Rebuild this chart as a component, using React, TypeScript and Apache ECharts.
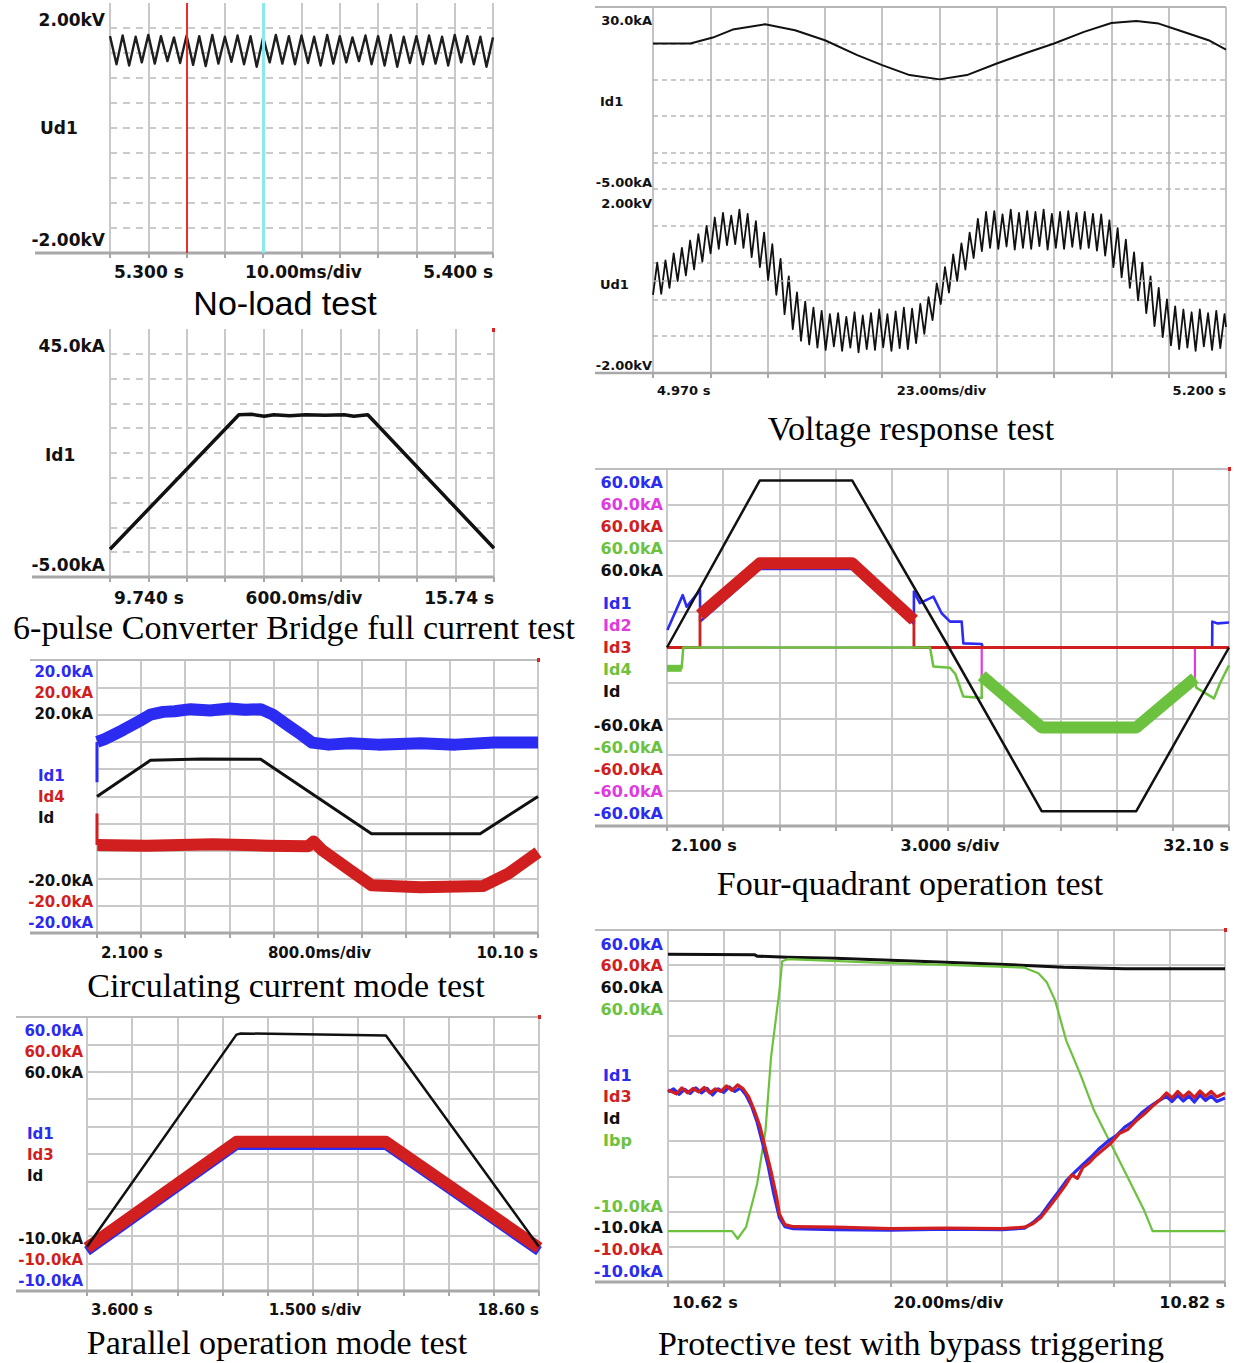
import React, { useEffect, useRef } from "react";
import * as echarts from "echarts";

type Pt = [number, number];

// ---------------- colours of the scope channels ----------------
const BLUE = "#2b2bf2";
const RED = "#d11f1f";
const BLACK = "#111111";
const GREEN = "#6cc23e";
const MAGENTA = "#e03ae0";

// ---------------- Panel 1: No-load test ----------------
const noLoadTitle = "No-load test";
const noLoadXLabels = ["5.300 s", "10.00ms/div", "5.400 s"];
const noLoadYLabels = ["2.00kV", "Ud1", "-2.00kV"];
const noLoadCursorTimes = [5.3188, 5.3389];
const noLoadUd1: Pt[] = [
  [5.3, 1.47], [5.3017, 1.02], [5.3033, 1.48], [5.305, 1.0], [5.3067, 1.46], [5.3083, 1.05], [5.31, 1.49], [5.3117, 1.03],
  [5.3133, 1.47], [5.315, 1.07], [5.3167, 1.45], [5.3183, 1.04], [5.32, 1.48], [5.3217, 1.01], [5.3233, 1.47], [5.325, 0.99],
  [5.3267, 1.49], [5.3283, 1.03], [5.33, 1.46], [5.3317, 1.06], [5.3333, 1.48], [5.335, 1.02], [5.3367, 1.47], [5.3383, 0.98],
  [5.34, 1.45], [5.3417, 1.05], [5.3433, 1.49], [5.345, 1.03], [5.3467, 1.47], [5.3483, 1.02], [5.35, 1.48], [5.3517, 1.04],
  [5.3533, 1.46], [5.355, 1.0], [5.3567, 1.49], [5.3583, 1.03], [5.36, 1.47], [5.3617, 1.05], [5.3633, 1.45], [5.365, 1.07],
  [5.3667, 1.48], [5.3683, 1.02], [5.37, 1.47], [5.3717, 1.0], [5.3733, 1.49], [5.375, 0.98], [5.3767, 1.46], [5.3783, 1.04],
  [5.38, 1.47], [5.3817, 1.02], [5.3833, 1.48], [5.385, 1.03], [5.3867, 1.46], [5.3883, 1.0], [5.39, 1.49], [5.3917, 1.05],
  [5.3933, 1.47], [5.395, 1.02], [5.3967, 1.46], [5.3983, 0.98], [5.4, 1.45],
];

// ---------------- Panel 2: 6-pulse converter bridge full current ----------------
const fullTitle = "6-pulse Converter Bridge full current test";
const fullXLabels = ["9.740 s", "600.0ms/div", "15.74 s"];
const fullYLabels = ["45.0kA", "Id1", "-5.00kA"];
const fullId1: Pt[] = [
  [9.74, 0.6], [11.754, 27.7], [11.95, 27.8], [12.15, 27.4], [12.3, 27.7], [12.55, 27.5], [12.8, 27.7],
  [13.1, 27.6], [13.4, 27.7], [13.55, 27.4], [13.768, 27.7], [15.74, 0.8],
];

// ---------------- Panel 3: circulating current mode ----------------
const circTitle = "Circulating current mode test";
const circXLabels = ["2.100 s", "800.0ms/div", "10.10 s"];
const circTopLabels = ["20.0kA", "20.0kA", "20.0kA"];
const circNames = ["Id1", "Id4", "Id"];
const circBottomLabels = ["-20.0kA", "-20.0kA", "-20.0kA"];
const circId1: Pt[] = [
  [2.105, 8.0], [2.24, 8.4], [2.56, 9.7], [2.88, 11.1], [3.07, 12.0], [3.3, 12.4], [3.51, 12.5], [3.8, 12.8],
  [4.15, 12.6], [4.5, 12.9], [4.79, 12.7], [5.07, 12.8], [5.29, 12.0], [5.55, 10.5], [5.8, 9.1], [6.0, 7.9],
  [6.3, 7.6], [6.69, 7.8], [7.2, 7.6], [7.97, 7.8], [8.6, 7.6], [9.3, 7.9], [10.1, 7.9],
];
const circId1Spike: Pt[] = [[2.1, 8.0], [2.1, 2.1]];
const circId: Pt[] = [[2.1, 0], [3.07, 5.3], [4.0, 5.5], [5.07, 5.45], [7.08, -5.45], [9.05, -5.45], [10.1, 0]];
const circId4: Pt[] = [
  [2.105, -7.1], [3.0, -7.2], [4.2, -7.0], [5.2, -7.2], [5.93, -7.3], [6.03, -6.6], [6.19, -7.9], [6.69, -10.8],
  [7.08, -13.0], [7.97, -13.3], [9.11, -13.1], [9.56, -11.3], [10.1, -8.2],
];
const circId4Spike: Pt[] = [[2.1, -7.1], [2.1, -2.5]];

// ---------------- Panel 4: parallel operation mode ----------------
const paraTitle = "Parallel operation mode test";
const paraXLabels = ["3.600 s", "1.500 s/div", "18.60 s"];
const paraTopLabels = ["60.0kA", "60.0kA", "60.0kA"];
const paraNames = ["Id1", "Id3", "Id"];
const paraBottomLabels = ["-10.0kA", "-10.0kA", "-10.0kA"];
const paraId: Pt[] = [[3.6, 1.3], [8.56, 55.5], [8.7, 55.8], [13.52, 55.3], [18.6, 1.3]];
const paraId1: Pt[] = [[3.6, 0.2], [8.56, 27.3], [13.52, 27.3], [18.6, 0.2]];
const paraId3: Pt[] = [[3.6, 1.0], [8.56, 28.1], [13.52, 28.1], [18.6, 1.0]];

// ---------------- Panel 5: voltage response ----------------
const voltTitle = "Voltage response test";
const voltXLabels = ["4.970 s", "23.00ms/div", "5.200 s"];
const voltUpperLabels = ["30.0kA", "Id1", "-5.00kA"];
const voltLowerLabels = ["2.00kV", "Ud1", "-2.00kV"];
const voltId1: Pt[] = [
  [4.97, 22.97], [4.985, 22.97], [4.994, 24.12], [5.002, 25.66], [5.015, 26.68], [5.027, 25.53], [5.039, 23.61],
  [5.052, 20.74], [5.062, 18.82], [5.073, 16.91], [5.085, 16.08], [5.096, 16.91], [5.108, 19.14], [5.12, 21.19],
  [5.131, 22.97], [5.143, 25.21], [5.154, 26.93], [5.164, 27.32], [5.173, 26.81], [5.181, 25.53], [5.193, 23.61],
  [5.2, 21.82],
];
const voltUd1: Pt[] = [
  [4.97, -0.3], [4.9717, 0.4], [4.9733, -0.28], [4.975, 0.45], [4.9766, -0.15], [4.9783, 0.6], [4.9799, 0.0], [4.9816, 0.72],
  [4.9832, 0.12], [4.9849, 0.88], [4.9865, 0.25], [4.9882, 1.02], [4.9898, 0.42], [4.9915, 1.2], [4.9931, 0.6], [4.9948, 1.38],
  [4.9964, 0.7], [4.9981, 1.48], [4.9997, 0.78], [5.0014, 1.42], [5.003, 0.8], [5.0047, 1.55], [5.0063, 0.72], [5.008, 1.46],
  [5.0096, 0.52], [5.0113, 1.3], [5.0129, 0.3], [5.0146, 1.05], [5.0162, 0.02], [5.0179, 0.8], [5.0195, -0.3], [5.0212, 0.48],
  [5.0228, -0.72], [5.0245, 0.1], [5.0261, -1.05], [5.0278, -0.25], [5.0294, -1.3], [5.0311, -0.45], [5.0327, -1.38], [5.0344, -0.58],
  [5.036, -1.45], [5.0377, -0.65], [5.0393, -1.5], [5.041, -0.72], [5.0426, -1.42], [5.0443, -0.7], [5.0459, -1.52], [5.0476, -0.78],
  [5.0492, -1.45], [5.0509, -0.68], [5.0525, -1.55], [5.0542, -0.75], [5.0558, -1.48], [5.0575, -0.7], [5.0591, -1.5], [5.0608, -0.62],
  [5.0624, -1.44], [5.0641, -0.72], [5.0657, -1.52], [5.0674, -0.66], [5.069, -1.46], [5.0707, -0.58], [5.0723, -1.48], [5.074, -0.6],
  [5.0756, -1.35], [5.0773, -0.5], [5.0789, -1.15], [5.0806, -0.35], [5.0822, -0.85], [5.0839, -0.05], [5.0855, -0.5], [5.0872, 0.3],
  [5.0888, -0.25], [5.0905, 0.58], [5.0921, 0.0], [5.0938, 0.82], [5.0954, 0.25], [5.0971, 1.05], [5.0987, 0.5], [5.1004, 1.35],
  [5.102, 0.65], [5.1037, 1.5], [5.1053, 0.72], [5.107, 1.52], [5.1086, 0.7], [5.1103, 1.45], [5.1119, 0.75], [5.1136, 1.55],
  [5.1152, 0.68], [5.1169, 1.48], [5.1185, 0.72], [5.1202, 1.52], [5.1218, 0.7], [5.1235, 1.5], [5.1251, 0.76], [5.1268, 1.55],
  [5.1284, 0.68], [5.1301, 1.46], [5.1317, 0.72], [5.1334, 1.5], [5.135, 0.7], [5.1367, 1.52], [5.1383, 0.74], [5.14, 1.48],
  [5.1416, 0.7], [5.1433, 1.5], [5.1449, 0.72], [5.1466, 1.46], [5.1482, 0.66], [5.1499, 1.45], [5.1515, 0.55], [5.1532, 1.32],
  [5.1548, 0.3], [5.1565, 1.15], [5.1581, 0.08], [5.1598, 0.9], [5.1614, -0.15], [5.1631, 0.62], [5.1647, -0.42], [5.1664, 0.4],
  [5.168, -0.7], [5.1697, 0.1], [5.1713, -0.98], [5.173, -0.15], [5.1746, -1.22], [5.1763, -0.4], [5.1779, -1.4], [5.1796, -0.55],
  [5.1812, -1.48], [5.1829, -0.62], [5.1845, -1.45], [5.1862, -0.68], [5.1878, -1.52], [5.1895, -0.62], [5.1911, -1.42], [5.1928, -0.7],
  [5.1944, -1.5], [5.1961, -0.65], [5.1977, -1.46], [5.1994, -0.72], [5.2, -1.0],
];

// ---------------- Panel 6: four-quadrant operation ----------------
const fourTitle = "Four-quadrant operation test";
const fourXLabels = ["2.100 s", "3.000 s/div", "32.10 s"];
const fourTopLabels = ["60.0kA", "60.0kA", "60.0kA", "60.0kA", "60.0kA"];
const fourNames = ["Id1", "Id2", "Id3", "Id4", "Id"];
const fourBottomLabels = ["-60.0kA", "-60.0kA", "-60.0kA", "-60.0kA", "-60.0kA"];
const fourId: Pt[] = [[2.1, 0], [7.05, 56.1], [11.99, 56.1], [17.15, 0], [22.1, -55], [27.15, -55], [32.1, 0]];
const fourId1: Pt[] = [
  [2.12, 5.9], [2.94, 17.6], [3.15, 13.7], [3.86, 19.3], [3.87, 8.7], [7.05, 26.4], [11.99, 26.4], [15.28, 8.0],
  [15.28, 18.8], [15.6, 14.9], [16.32, 17.1], [16.76, 11.5], [17.21, 8.7], [17.83, 8.7], [17.92, 1.4], [18.9, 1.2],
  [18.95, 0], [31.2, 0], [31.21, 8.7], [31.5, 8.1], [32.1, 8.4],
];
const fourId2: Pt[] = [
  [2.1, 0], [18.9, 0], [18.9, -9.8], [22.1, -27.3], [27.15, -27.3], [30.28, -10.6], [30.28, 0], [32.1, 0],
];
const fourId3: Pt[] = [
  [2.1, 0], [3.86, 0], [3.86, 10.9], [7.06, 28.3], [11.99, 28.3], [15.28, 9.2], [15.28, 0], [32.1, 0],
];
const fourId4: Pt[] = [
  [2.1, -7.0], [2.88, -7.0], [2.97, 0], [16.14, 0], [16.32, -6.4], [17.21, -6.8], [17.5, -9.0], [17.92, -16.5],
  [18.9, -17.0], [18.9, -9.5], [22.1, -26.9], [27.15, -26.9], [30.28, -10.3], [30.35, -13.5], [31.3, -17.1],
  [31.62, -12.0], [32.1, -6.0],
];

// ---------------- Panel 7: protective test with bypass triggering ----------------
const protTitle = "Protective test with bypass triggering";
const protXLabels = ["10.62 s", "20.00ms/div", "10.82 s"];
const protTopLabels = ["60.0kA", "60.0kA", "60.0kA", "60.0kA"];
const protNames = ["Id1", "Id3", "Id", "Ibp"];
const protBottomLabels = ["-10.0kA", "-10.0kA", "-10.0kA", "-10.0kA"];
const protId: Pt[] = [
  [10.62, 55.2], [10.651, 55.1], [10.652, 54.8], [10.663, 54.6], [10.68, 54.4], [10.71, 53.8], [10.739, 53.2],
  [10.762, 52.6], [10.784, 52.3], [10.82, 52.3],
];
const protIbp: Pt[] = [
  [10.62, 0.1], [10.643, 0.1], [10.645, -1.4], [10.648, 0.9], [10.652, 9.5], [10.655, 20.1], [10.657, 34.7],
  [10.66, 47.9], [10.661, 53.8], [10.663, 54.2], [10.695, 53.5], [10.739, 52.7], [10.748, 52.5], [10.753, 51.4],
  [10.756, 49.6], [10.759, 46.0], [10.763, 38.0], [10.768, 31.4], [10.773, 24.1], [10.779, 17.5], [10.785, 10.9],
  [10.791, 4.2], [10.794, 0.1], [10.82, 0.1],
];
const protId3: Pt[] = [
  [10.62, 28.2], [10.623, 27.4], [10.625, 28.6], [10.627, 27.6], [10.629, 28.5], [10.631, 27.8], [10.633, 28.7],
  [10.635, 27.6], [10.637, 28.4], [10.639, 27.9], [10.641, 29.0], [10.643, 28.1], [10.645, 29.2], [10.647, 28.4],
  [10.649, 26.8], [10.651, 24.1], [10.653, 21.0], [10.655, 16.5], [10.657, 12.0], [10.659, 6.9], [10.66, 3.5],
  [10.662, 1.4], [10.665, 1.0], [10.68, 0.9], [10.7, 0.6], [10.72, 0.7], [10.74, 0.6], [10.748, 0.9], [10.751, 1.6],
  [10.754, 2.9], [10.757, 5.0], [10.76, 7.2], [10.763, 9.5], [10.765, 11.3], [10.767, 10.6], [10.769, 12.8],
  [10.771, 13.6], [10.773, 14.8], [10.776, 16.2], [10.779, 17.6], [10.782, 19.5], [10.785, 20.3], [10.788, 22.0],
  [10.791, 23.4], [10.794, 25.0], [10.797, 26.4], [10.799, 27.6], [10.801, 26.6], [10.803, 27.9], [10.805, 26.8],
  [10.807, 27.8], [10.809, 26.7], [10.811, 28.0], [10.813, 26.9], [10.815, 27.9], [10.817, 26.8], [10.82, 27.6],
];
const protId1: Pt[] = [
  [10.62, 27.8], [10.622, 28.4], [10.624, 27.3], [10.626, 28.3], [10.628, 27.5], [10.63, 28.6], [10.632, 27.6],
  [10.634, 28.5], [10.636, 27.2], [10.638, 28.4], [10.64, 27.7], [10.642, 28.8], [10.644, 27.9], [10.646, 28.6],
  [10.648, 27.2], [10.65, 25.0], [10.652, 21.8], [10.654, 17.5], [10.656, 13.0], [10.658, 7.5], [10.66, 2.8],
  [10.662, 1.0], [10.665, 0.6], [10.68, 0.4], [10.7, 0.3], [10.72, 0.5], [10.74, 0.4], [10.748, 0.7], [10.751, 1.8],
  [10.754, 3.3], [10.757, 5.6], [10.76, 7.8], [10.763, 10.1], [10.766, 11.8], [10.769, 13.4], [10.772, 14.9],
  [10.775, 16.6], [10.778, 18.0], [10.781, 19.1], [10.784, 20.8], [10.787, 21.9], [10.79, 23.6], [10.793, 24.9],
  [10.796, 26.0], [10.799, 26.9], [10.801, 25.9], [10.803, 27.1], [10.805, 26.0], [10.807, 27.0], [10.809, 25.8],
  [10.811, 27.2], [10.813, 26.1], [10.815, 27.0], [10.817, 25.9], [10.82, 26.6],
];

// ---------------- layout (positions / styles only) ----------------
interface Box { left: number; top: number; width: number; height: number }
interface PanelSpec {
  box: Box;
  x: [number, number, number];
  y: [number, number, number];
  hDashed: boolean;
  ticks: boolean;
  vColor: string;
  vWidth: number;
  hColor: string;
  hWidth: number;
  dash: number[];
  showMinH?: boolean;
}

const GRID_C = "#c9c9c9";
const AXIS_C = "#a8a8a8";

const panels: PanelSpec[] = [
  { box: { left: 110, top: 3, width: 383, height: 250 }, x: [5.3, 5.4, 0.01], y: [-2, 2, 0.4], hDashed: true, ticks: true, vColor: GRID_C, vWidth: 2, hColor: "#cbcbcb", hWidth: 2, dash: [7, 6] },
  { box: { left: 110, top: 329, width: 384, height: 248 }, x: [9.74, 15.74, 0.6], y: [-5, 45, 5], hDashed: true, ticks: true, vColor: GRID_C, vWidth: 2, hColor: "#cbcbcb", hWidth: 2, dash: [7, 6] },
  { box: { left: 97, top: 660, width: 441, height: 273 }, x: [2.1, 10.1, 0.8], y: [-20, 20, 4], hDashed: false, ticks: true, vColor: GRID_C, vWidth: 2, hColor: GRID_C, hWidth: 2, dash: [] },
  { box: { left: 87, top: 1017, width: 452, height: 274 }, x: [3.6, 18.6, 1.5], y: [-10, 60, 7], hDashed: false, ticks: true, vColor: GRID_C, vWidth: 2, hColor: GRID_C, hWidth: 2, dash: [] },
  { box: { left: 653, top: 7, width: 573, height: 182 }, x: [4.97, 5.2, 0.023], y: [-5, 30, 7], hDashed: true, ticks: false, vColor: "#b0b0b0", vWidth: 1.5, hColor: "#b8b8b8", hWidth: 1.5, dash: [5, 4], showMinH: true },
  { box: { left: 653, top: 189, width: 573, height: 184 }, x: [4.97, 5.2, 0.023], y: [-2, 2, 0.8], hDashed: true, ticks: true, vColor: "#b0b0b0", vWidth: 1.5, hColor: "#b8b8b8", hWidth: 1.5, dash: [5, 4] },
  { box: { left: 667, top: 469, width: 562, height: 357 }, x: [2.1, 32.1, 3], y: [-60, 60, 12], hDashed: false, ticks: true, vColor: GRID_C, vWidth: 2, hColor: GRID_C, hWidth: 2, dash: [] },
  { box: { left: 668, top: 930, width: 557, height: 352 }, x: [10.62, 10.82, 0.02], y: [-10, 60, 7], hDashed: false, ticks: true, vColor: GRID_C, vWidth: 2, hColor: GRID_C, hWidth: 2, dash: [] },
];

function buildOption() {
  const grids: any[] = [];
  const xAxes: any[] = [];
  const yAxes: any[] = [];
  const series: any[] = [];
  const graphics: any[] = [];

  panels.forEach((p, i) => {
    grids.push({ left: p.box.left, top: p.box.top, width: p.box.width, height: p.box.height, containLabel: false });
    xAxes.push({
      gridIndex: i, type: "value", min: p.x[0], max: p.x[1], interval: p.x[2], silent: true,
      axisLine: { show: false, onZero: false },
      axisTick: { show: p.ticks, length: 5, inside: false, lineStyle: { color: AXIS_C, width: 2 } },
      axisLabel: { show: false },
      splitLine: { show: true, showMinLine: true, showMaxLine: true, lineStyle: { color: p.vColor, width: p.vWidth, type: "solid" } },
    });
    yAxes.push({
      gridIndex: i, type: "value", min: p.y[0], max: p.y[1], interval: p.y[2], silent: true,
      axisLine: { show: false, onZero: false },
      axisTick: { show: false },
      axisLabel: { show: false },
      splitLine: {
        show: true, showMinLine: !!p.showMinH, showMaxLine: false,
        lineStyle: { color: p.hColor, width: p.hWidth, type: p.hDashed ? p.dash : "solid" },
      },
    });
  });

  const line = (g: number, data: Pt[], color: string, width: number, extra: any = {}) => ({
    type: "line", xAxisIndex: g, yAxisIndex: g, data, symbol: "none", showSymbol: false, silent: true,
    animation: false, emphasis: { disabled: true },
    lineStyle: { color, width, cap: "butt", join: "round" }, ...extra,
  });

  // Panel 1
  series.push(line(0, noLoadUd1, "#1e1e1e", 2.4, {
    markLine: {
      silent: true, symbol: ["none", "none"], label: { show: false }, animation: false,
      data: [
        { xAxis: noLoadCursorTimes[0], lineStyle: { color: "#e5302c", width: 2, type: "solid" } },
        { xAxis: noLoadCursorTimes[1], lineStyle: { color: "#8ae8f0", width: 3, type: "solid" } },
      ],
    },
  }));
  // Panel 2
  series.push(line(1, fullId1, BLACK, 3.5));
  // Panel 3
  series.push(line(2, circId1, BLUE, 12));
  series.push(line(2, circId1Spike, BLUE, 3));
  series.push(line(2, circId4, RED, 12));
  series.push(line(2, circId4Spike, RED, 3));
  series.push(line(2, circId, BLACK, 3));
  // Panel 4
  series.push(line(3, paraId1, BLUE, 10));
  series.push(line(3, paraId3, RED, 12));
  series.push(line(3, paraId, BLACK, 2.5));
  // Panel 5
  const zeroMark = {
    silent: true, symbol: ["none", "none"], label: { show: false }, animation: false,
    lineStyle: { color: "#b8b8b8", width: 1.5, type: [5, 4] }, data: [{ yAxis: 0 }],
  };
  series.push(line(4, voltId1, BLACK, 2, { markLine: zeroMark }));
  series.push(line(5, voltUd1, BLACK, 1.8, { markLine: zeroMark }));
  // Panel 6
  series.push(line(6, fourId2, MAGENTA, 2.2));
  series.push(line(6, fourId1, BLUE, 2.6));
  series.push(line(6, fourId3, RED, 2.8));
  series.push(line(6, fourId4, GREEN, 2.5));
  series.push(line(6, fourId4.slice(0, 2), GREEN, 7));
  series.push(line(6, fourId4.slice(9, 13), GREEN, 12));
  series.push(line(6, fourId3.slice(2, 6), RED, 12));
  series.push(line(6, fourId, BLACK, 2.5));
  // Panel 7
  series.push(line(7, protId, BLACK, 3));
  series.push(line(7, protIbp, GREEN, 2.2));
  series.push(line(7, protId1, BLUE, 3.2));
  series.push(line(7, protId3, RED, 3.2));

  // ---------- frame lines ----------
  const hline = (x1: number, x2: number, y: number, stroke: string, w: number) => ({
    type: "line", silent: true, z: 1, shape: { x1, y1: y, x2, y2: y }, style: { stroke, lineWidth: w },
  });
  graphics.push(hline(35, 493, 253, AXIS_C, 3));
  graphics.push(hline(32, 494, 577, AXIS_C, 3));
  graphics.push(hline(30, 538, 933, AXIS_C, 3));
  graphics.push(hline(30, 538, 660, "#bdbdbd", 2));
  graphics.push(hline(16, 539, 1291, AXIS_C, 3));
  graphics.push(hline(16, 539, 1017, "#bdbdbd", 2));
  graphics.push(hline(595, 1226, 373, AXIS_C, 2.5));
  graphics.push(hline(595, 1226, 7, "#b5b5b5", 2));
  graphics.push(hline(595, 1229, 826, AXIS_C, 3));
  graphics.push(hline(595, 1229, 469, "#bdbdbd", 2));
  graphics.push(hline(595, 1225, 1282, AXIS_C, 3));
  graphics.push(hline(595, 1225, 930, "#bdbdbd", 2));
  const mark = (x: number, y: number) => ({ type: "rect", silent: true, z: 5, shape: { x, y, width: 3, height: 4 }, style: { fill: "#e02020" } });
  [[492, 328], [537, 658], [538, 1015], [1228, 467], [1224, 928]].forEach(([x, y]) => graphics.push(mark(x, y)));

  // ---------- texts ----------
  const txt = (x: number, y: number, text: string, fill: string, size: number, align: string, family = '"DejaVu Sans", sans-serif', weight = "bold") => ({
    type: "text", x, y, silent: true, z: 10,
    style: {
      text, fill, fontSize: size, fontWeight: weight, fontFamily: family,
      textAlign: align, textVerticalAlign: "middle", align, verticalAlign: "middle",
    },
  });
  const column = (labels: string[], colors: string[], x: number, y0: number, step: number, size: number, align: string) =>
    labels.forEach((l, k) => graphics.push(txt(x, y0 + k * step, l, colors[k], size, align)));
  const xRow = (labels: string[], b: Box, y: number, size: number) => {
    graphics.push(txt(b.left + 4, y, labels[0], BLACK, size, "left"));
    graphics.push(txt(b.left + b.width / 2 + 2, y, labels[1], BLACK, size, "center"));
    graphics.push(txt(b.left + b.width, y, labels[2], BLACK, size, "right"));
  };
  const serif = '"Liberation Serif", "Times New Roman", serif';
  const title = (x: number, y: number, text: string, family = serif) => graphics.push(txt(x, y, text, "#000000", 34, "center", family, "normal"));

  // Panel 1
  graphics.push(txt(105, 20, noLoadYLabels[0], BLACK, 17, "right"));
  graphics.push(txt(40, 128, noLoadYLabels[1], BLACK, 17, "left"));
  graphics.push(txt(105, 240, noLoadYLabels[2], BLACK, 17, "right"));
  xRow(noLoadXLabels, panels[0].box, 272, 17);
  title(285, 303, noLoadTitle, '"Liberation Sans", Arial, sans-serif');
  // Panel 2
  graphics.push(txt(105, 346, fullYLabels[0], BLACK, 17, "right"));
  graphics.push(txt(45, 455, fullYLabels[1], BLACK, 17, "left"));
  graphics.push(txt(105, 565, fullYLabels[2], BLACK, 17, "right"));
  xRow(fullXLabels, panels[1].box, 598, 17);
  title(294, 627, fullTitle);
  // Panel 3
  column(circTopLabels, [BLUE, RED, BLACK], 93, 672, 21, 15, "right");
  column(circNames, [BLUE, RED, BLACK], 38, 776, 21, 15, "left");
  column(circBottomLabels, [BLACK, RED, BLUE], 93, 881, 21, 15, "right");
  xRow(circXLabels, panels[2].box, 953, 15);
  title(286, 985, circTitle);
  // Panel 4
  column(paraTopLabels, [BLUE, RED, BLACK], 83, 1031, 21, 15, "right");
  column(paraNames, [BLUE, RED, BLACK], 27, 1134, 21, 15, "left");
  column(paraBottomLabels, [BLACK, RED, BLUE], 83, 1239, 21, 15, "right");
  xRow(paraXLabels, panels[3].box, 1310, 15);
  title(277, 1342, paraTitle);
  // Panel 5
  graphics.push(txt(652, 20, voltUpperLabels[0], BLACK, 13, "right"));
  graphics.push(txt(600, 101, voltUpperLabels[1], BLACK, 13, "left"));
  graphics.push(txt(652, 182, voltUpperLabels[2], BLACK, 13, "right"));
  graphics.push(txt(652, 203, voltLowerLabels[0], BLACK, 13, "right"));
  graphics.push(txt(600, 284, voltLowerLabels[1], BLACK, 13, "left"));
  graphics.push(txt(652, 365, voltLowerLabels[2], BLACK, 13, "right"));
  xRow(voltXLabels, panels[5].box, 390, 13);
  title(911, 428, voltTitle);
  // Panel 6
  column(fourTopLabels, [BLUE, MAGENTA, RED, GREEN, BLACK], 663, 482, 22, 16, "right");
  column(fourNames, [BLUE, MAGENTA, RED, GREEN, BLACK], 603, 603, 22, 16, "left");
  column(fourBottomLabels, [BLACK, GREEN, RED, MAGENTA, BLUE], 663, 725, 22, 16, "right");
  xRow(fourXLabels, panels[6].box, 845, 16);
  title(910, 883, fourTitle);
  // Panel 7
  column(protTopLabels, [BLUE, RED, BLACK, GREEN], 663, 944, 21.7, 16, "right");
  column(protNames, [BLUE, RED, BLACK, GREEN], 603, 1075, 21.7, 16, "left");
  column(protBottomLabels, [GREEN, BLACK, RED, BLUE], 663, 1206, 21.7, 16, "right");
  xRow(protXLabels, panels[7].box, 1302, 16);
  title(911, 1343, protTitle);

  return {
    animation: false,
    backgroundColor: "#ffffff",
    grid: grids,
    xAxis: xAxes,
    yAxis: yAxes,
    series,
    graphic: { elements: graphics },
  };
}

export default function App() {
  const ref = useRef<HTMLDivElement>(null);
  useEffect(() => {
    if (!ref.current) return;
    const chart = echarts.init(ref.current, null, { renderer: "svg" });
    chart.setOption(buildOption() as any);
    return () => chart.dispose();
  }, []);
  return (
    <div
      ref={ref}
      style={{ position: "absolute", left: 0, top: 0, width: 1234, height: 1363, background: "#fff" }}
    />
  );
}
